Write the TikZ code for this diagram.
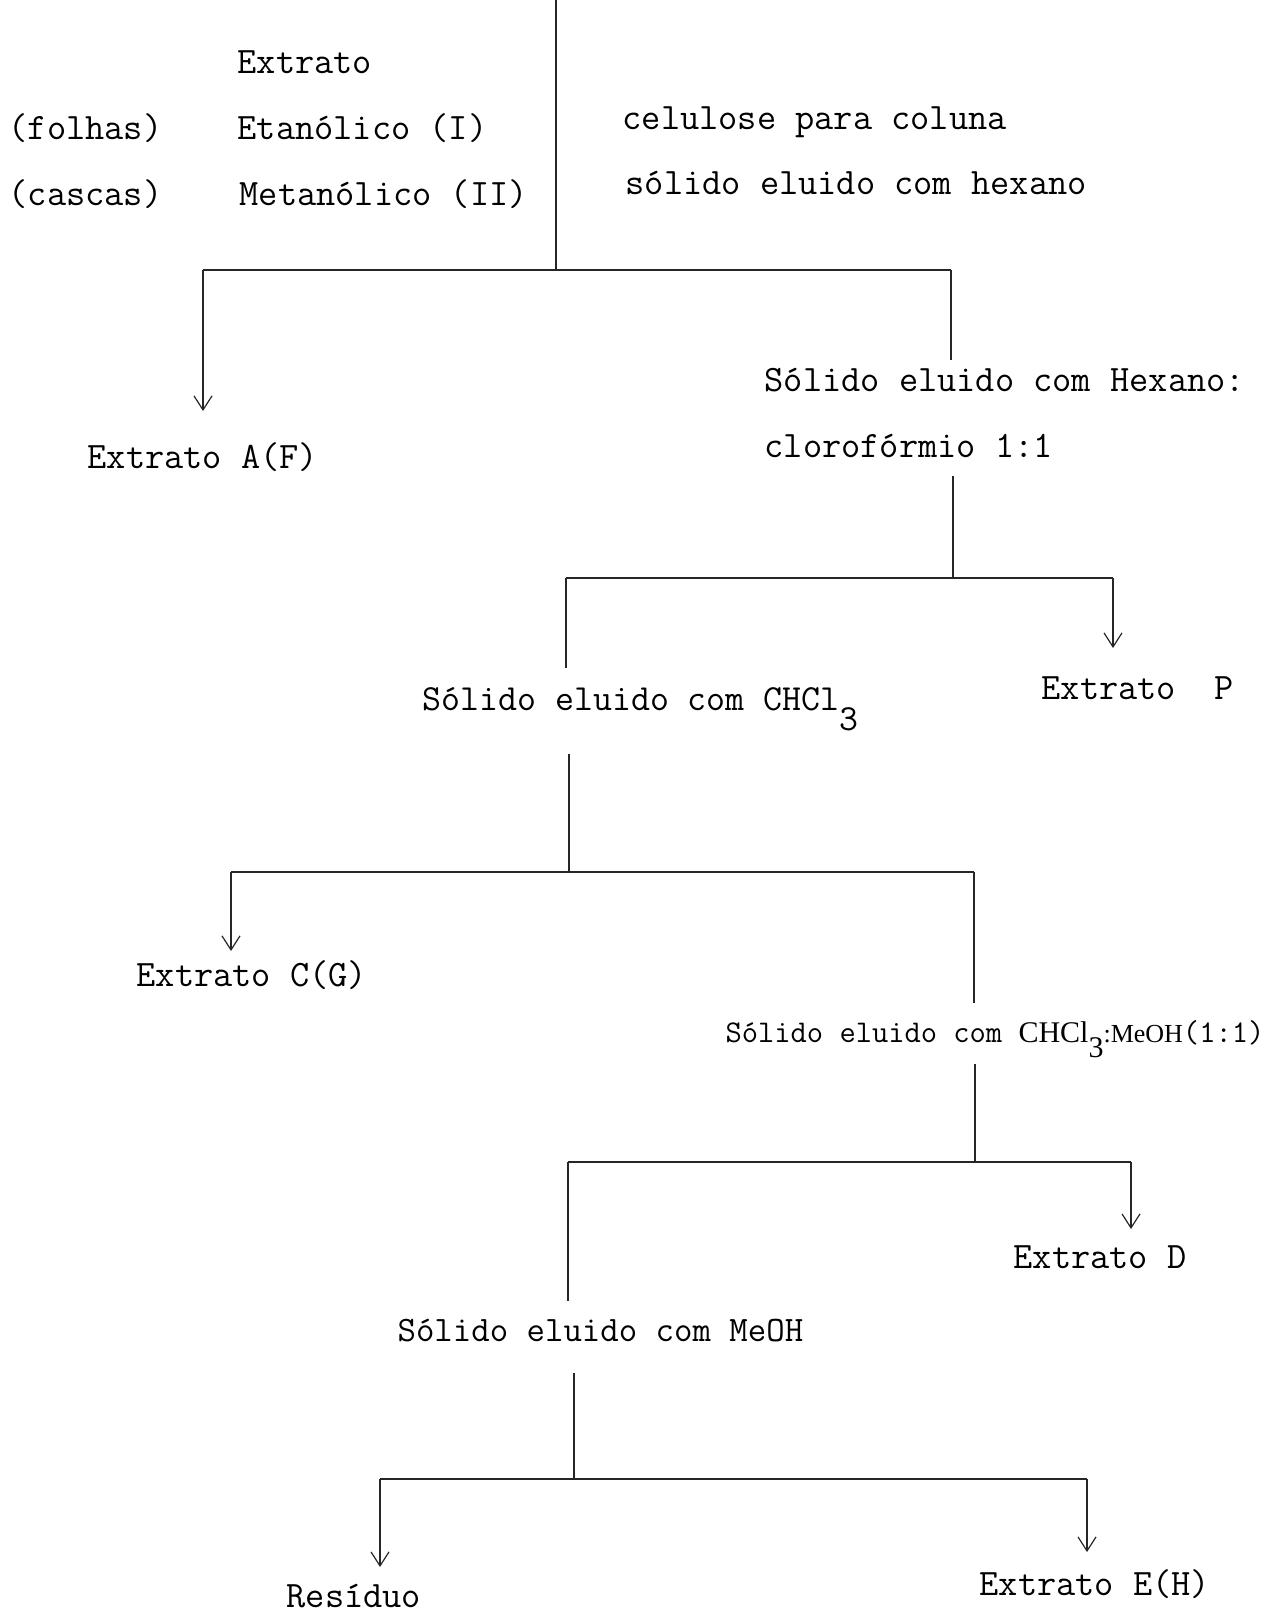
\documentclass[tikz,border=0pt]{standalone}
\usepackage{fontspec}
\newfontfamily\condserif{Liberation Serif}
\usetikzlibrary{arrows.meta,positioning}

\begin{document}
\begin{tikzpicture}[x=0.5pt, y=-0.5pt, line width=0.6pt, >={Straight Barb[length=7pt,width=9pt]}]
   \useasboundingbox (0,0) rectangle (1268,1613);
   % labels of the fractionation scheme
   \begin{scope}[every node/.style={anchor=base west, inner sep=0pt, font=\ttfamily\fontsize{18.65}{20}\selectfont}]
    \node (ext) at (237,73)  {Extrato};
    \node (fol) at (8,139)   {(folhas)};
    \node (eta) at (237,139) {Etanólico (I)};
    \node (cas) at (8,205)   {(cascas)};
    \node (met) at (239,205) {Metanólico (II)};
    \node (cel) at (622,129) {celulose para coluna};
    \node (hex) at (625,194) {sólido eluido com hexano};
    \node (exA) at (87,468)  {Extrato A(F)};
    \node (hcA) at (764,391) {Sólido eluido com Hexano:};
    \node (hcB) at (764,457) {clorofórmio 1:1};
    \node (exB) at (1041,699) {Extrato\ \ P};
    \node (exC) at (136,986) {Extrato C(G)};
    \node (exD) at (1013,1268) {Extrato D};
    \node (exE) at (979,1595) {Extrato E(H)};
    \node (res) at (286,1607) {Resíduo};
   \end{scope}
   \begin{scope}[every node/.style={anchor=base west, inner sep=0pt, font=\ttfamily\fontsize{17.9}{20}\selectfont}]
    \node (chc) at (422,710) {\fontsize{18.4}{20}\selectfont Sólido eluido com CHCl\raisebox{-0.55em}{3}};
    \node (meo) at (397,1341) {Sólido eluido com MeOH};
    \node (chm) at (725,1042) {\fontsize{15.8}{18}\selectfont Sólido eluido com
      {\condserif\fontsize{15}{16}\selectfont CHCl\raisebox{-0.5em}{3}\fontsize{13}{14}\selectfont:MeOH}(1:1)};
   \end{scope}
   % branching points
   \coordinate (t0) at (556,0);
   \coordinate (s1) at (556,270);
   \coordinate (s1l) at (203,270);
   \coordinate (s1r) at (951,270);
   \coordinate (a1) at (203,411);
   \coordinate (b1) at (951,360);
   \coordinate (t2) at (953,476);
   \coordinate (s2) at (953,578);
   \coordinate (s2l) at (566,578);
   \coordinate (s2r) at (1113,578);
   \coordinate (a2) at (1113,648);
   \coordinate (b2) at (566,668);
   \coordinate (t3) at (569,754);
   \coordinate (s3) at (569,872);
   \coordinate (s3l) at (231,872);
   \coordinate (s3r) at (974,872);
   \coordinate (a3) at (231,951);
   \coordinate (b3) at (974,1003);
   \coordinate (t4) at (975,1064);
   \coordinate (s4) at (975,1162);
   \coordinate (s4l) at (568,1162);
   \coordinate (s4r) at (1131,1162);
   \coordinate (a4) at (1131,1229);
   \coordinate (b4) at (568,1301);
   \coordinate (t5) at (574,1373);
   \coordinate (s5) at (574,1479);
   \coordinate (s5l) at (380,1479);
   \coordinate (s5r) at (1087,1479);
   \coordinate (a5) at (380,1567);
   \coordinate (b5) at (1087,1552);
   \begin{scope}[draw=black!85]
    \draw (t0) -- (s1);
    \draw (s1l) -- (s1r);
    \draw[->] (s1l) -- (a1);
    \draw (s1r) -- (b1);
    \draw (t2) -- (s2);
    \draw (s2l) -- (s2r);
    \draw (s2l) -- (b2);
    \draw[->] (s2r) -- (a2);
    \draw (t3) -- (s3);
    \draw (s3l) -- (s3r);
    \draw[->] (s3l) -- (a3);
    \draw (s3r) -- (b3);
    \draw (t4) -- (s4);
    \draw (s4l) -- (s4r);
    \draw (s4l) -- (b4);
    \draw[->] (s4r) -- (a4);
    \draw (t5) -- (s5);
    \draw (s5l) -- (s5r);
    \draw[->] (s5l) -- (a5);
    \draw[->] (s5r) -- (b5);
   \end{scope}
\end{tikzpicture}
\end{document}
